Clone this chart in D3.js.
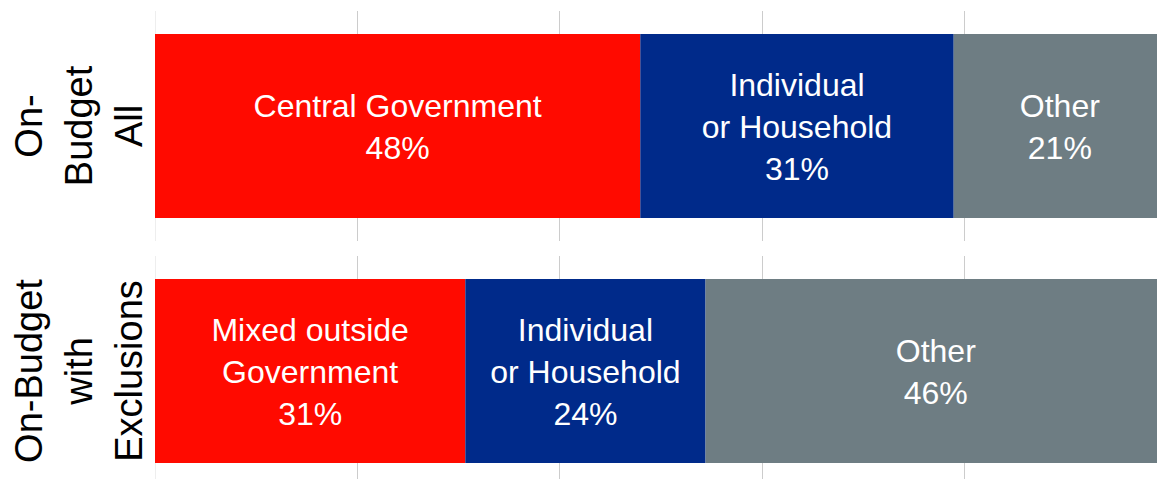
<!DOCTYPE html>
<html>
<head>
<meta charset="utf-8">
<script src="https://cdn.jsdelivr.net/npm/d3@7"></script>
<style>
  html, body { margin: 0; padding: 0; background: #fff; }
  svg { display: block; font-family: "Liberation Sans", Arial, sans-serif; }
</style>
</head>
<body>
<svg id="chart" width="1157" height="479"></svg>
<script>
// Rows (one stacked bar each) and their multi-line axis labels
const rows = ["On-Budget All", "On-Budget with Exclusions"];
const rowLabelLines = [["On-", "Budget", "All"], ["On-Budget", "with", "Exclusions"]];

// Segment keys in stacking order
const segmentKeys = ["government", "household", "other"];
const segmentColors = ["#FF0A00", "#002A8A", "#6E7D83"];

// Shares (%) per row
const governmentShare = [48, 31];
const householdShare = [31, 24];
const otherShare = [21, 46];

// Segment names per row
const governmentNames = [["Central Government"], ["Mixed outside", "Government"]];
const householdNames = [["Individual", "or Household"], ["Individual", "or Household"]];
const otherNames = [["Other"], ["Other"]];

// Gridline positions (share of total)
const gridTicks = [0, 0.2, 0.4, 0.6, 0.8];

const table = rows.map((r, i) => ({
  row: r,
  government: governmentShare[i],
  household: householdShare[i],
  other: otherShare[i]
}));
const namesByKey = { government: governmentNames, household: householdNames, other: otherNames };

const svg = d3.select("#chart");

const x = d3.scaleLinear().domain([0, 1]).range([155, 1166]);
const y = d3.scaleBand().domain(rows).range([11, 486]).paddingInner(15 / 245).paddingOuter(0);
const barInset = y.bandwidth() * 0.1;
const barHeight = y.bandwidth() * 0.8;

const color = d3.scaleOrdinal().domain(segmentKeys).range(segmentColors);

const series = d3.stack().keys(segmentKeys).offset(d3.stackOffsetExpand)(table);

// Vertical gridlines, drawn separately inside each panel
const grid = svg.append("g");
rows.forEach(r => {
  grid.selectAll(null)
    .data(gridTicks)
    .join("line")
    .attr("x1", d => Math.round(x(d)) + 0.5)
    .attr("x2", d => Math.round(x(d)) + 0.5)
    .attr("y1", y(r))
    .attr("y2", y(r) + y.bandwidth())
    .attr("stroke", d => d === 0 ? "#eeeeee" : "#cccccc")
    .attr("stroke-width", 1);
});

// Stacked bars
const layers = svg.append("g")
  .selectAll("g")
  .data(series)
  .join("g")
  .attr("fill", d => color(d.key));

layers.selectAll("rect")
  .data(d => d.map(s => Object.assign(s, { key: d.key })))
  .join("rect")
  .attr("x", d => x(d[0]))
  .attr("width", d => x(d[1]) - x(d[0]))
  .attr("y", d => y(d.data.row) + barInset)
  .attr("height", barHeight);

// Segment labels: name lines followed by the share
const labelSize = 32, labelLead = 42;
const labels = svg.append("g")
  .attr("fill", "#fff")
  .attr("font-size", labelSize)
  .attr("text-anchor", "middle");

series.forEach(layer => {
  layer.forEach((s, i) => {
    const lines = namesByKey[layer.key][i].concat([s.data[layer.key] + "%"]);
    const cx = (x(s[0]) + x(s[1])) / 2;
    const cy = y(s.data.row) + y.bandwidth() / 2;
    const t = labels.append("text")
      .attr("x", cx)
      .attr("y", cy);
    lines.forEach((ln, k) => {
      t.append("tspan")
        .attr("x", cx)
        .attr("y", cy + (k - (lines.length - 1) / 2) * labelLead)
        .attr("dy", "0.36em")
        .text(ln);
    });
  });
});

// Rotated row labels on the left
const rowSize = 38, rowLead = 50;
rows.forEach((r, i) => {
  const lines = rowLabelLines[i];
  const cy = y(r) + y.bandwidth() / 2;
  const g = svg.append("g").attr("transform", `translate(0,${cy}) rotate(-90)`);
  const t = g.append("text")
    .attr("text-anchor", "middle")
    .attr("font-size", rowSize)
    .attr("fill", "#000");
  lines.forEach((ln, k) => {
    t.append("tspan")
      .attr("x", 0)
      .attr("y", 78 + (k - (lines.length - 1) / 2) * rowLead)
      .attr("dy", "0.36em")
      .text(ln);
  });
});
</script>
</body>
</html>
